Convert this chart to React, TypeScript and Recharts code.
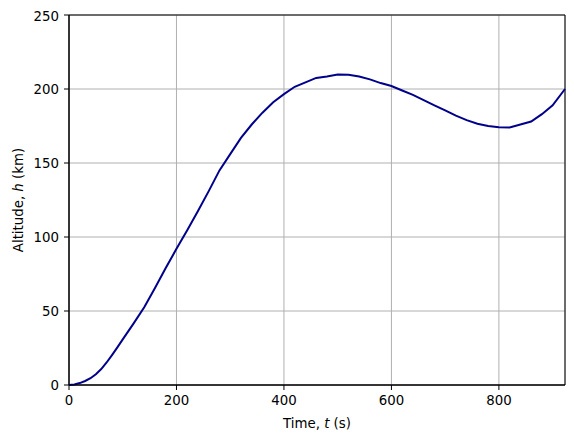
import React from "react";
import { LineChart, Line, XAxis, YAxis, CartesianGrid, ReferenceArea } from "recharts";

const times = [
  0, 10, 20, 30, 40, 50, 60, 70, 80, 90, 100, 120, 140, 160, 180, 200, 220, 240, 260, 280, 300,
  320, 340, 360, 380, 400, 420, 440, 460, 480, 500, 520, 540, 560, 580, 600, 620, 640, 660, 680,
  700, 720, 740, 760, 780, 800, 820, 840, 860, 880, 900, 923,
];
const altitudes = [
  0, 0.3, 1.3, 2.7, 4.6, 7.3, 10.8, 15.2, 20.2, 25.4, 30.8, 41.5, 52.5, 65.5, 79, 92, 104.5, 117.5,
  131, 145, 156, 167, 176, 184, 191, 196.5, 201.5, 204.5, 207.5, 208.5, 209.8, 209.7, 208.5, 206.5,
  204, 202, 199, 196, 192.5, 189, 185.5, 182, 179, 176.5, 175, 174.2, 174, 176, 178, 183, 189, 200,
];
const xTicks = [0, 200, 400, 600, 800];
const yTicks = [0, 50, 100, 150, 200, 250];

const data = times.map((t, i) => ({ t, h: altitudes[i] }));

const FONT = "DejaVu Sans";
const FS = 13.33;

export default function App() {
  return (
    <LineChart width={566} height={425} data={data} margin={{ top: 7, right: 9, left: 0, bottom: 0 }}>
      <CartesianGrid stroke="#b0b0b0" strokeWidth={1} />
      <XAxis
        dataKey="t"
        type="number"
        domain={[0, 923]}
        ticks={xTicks}
        height={48}
        tickSize={5}
        tickMargin={6}
        stroke="#000"
        tick={{ fill: "#000", fontSize: FS, fontFamily: FONT }}
        label={{
          content: () => (
            <text x={309} y={420} textAnchor="middle" fontSize={FS} fontFamily={FONT} fill="#000">
              Time, <tspan fontStyle="italic">t</tspan> (s)
            </text>
          ),
        }}
      />
      <YAxis
        type="number"
        domain={[0, 250]}
        ticks={yTicks}
        width={61}
        tickSize={5}
        tickMargin={5}
        stroke="#000"
        tick={{ fill: "#000", fontSize: FS, fontFamily: FONT }}
        label={{
          content: () => (
            <text
              x={15}
              y={192}
              transform="rotate(-90 15 192)"
              textAnchor="middle"
              fontSize={FS}
              fontFamily={FONT}
              fill="#000"
            >
              Altitude, <tspan fontStyle="italic">h</tspan> (km)
            </text>
          ),
        }}
      />
      <ReferenceArea x1={0} x2={923} y1={0} y2={250} fill="none" stroke="#000" strokeWidth={1} />
      <Line
        dataKey="h"
        type="linear"
        stroke="#00008b"
        strokeWidth={2}
        dot={false}
        isAnimationActive={false}
      />
    </LineChart>
  );
}
